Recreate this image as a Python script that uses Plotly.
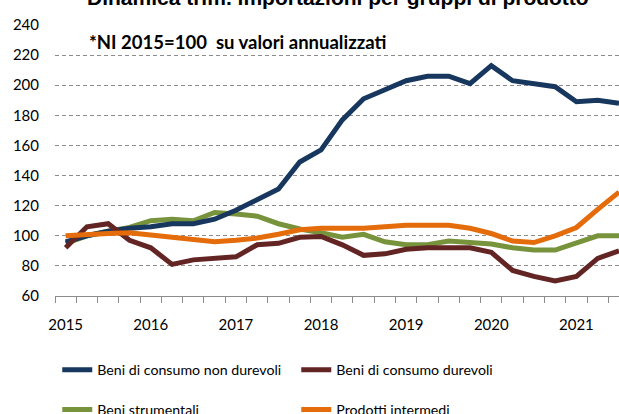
import plotly.graph_objects as go

quarters = list(range(27))  # 2015Q1 .. 2021Q3
year_labels = ["2015", "2016", "2017", "2018", "2019", "2020", "2021"]
year_pos = [0, 4, 8, 12, 16, 20, 24]

non_durevoli = [96, 100, 103, 105, 106, 108, 108, 111, 117, 124, 131, 149, 157, 177, 191, 197,
                203, 206, 206, 201, 213, 203, 201, 199, 189, 190, 188]
durevoli = [92, 106, 108, 97, 92, 81, 84, 85, 86, 94, 95, 99, 99.5, 94, 87, 88,
            91, 92, 92, 92, 89, 77, 73, 70, 73, 85, 90]
strumentali = [95, 100, 103, 105.5, 110, 111, 110, 115.5, 114.5, 113, 108, 104.5, 102, 99, 101, 96,
               94, 94, 96.5, 95.5, 94.5, 92, 90.5, 90.5, 95, 100, 100]
intermedi = [100, 101, 101.5, 102, 100.5, 98.5, 97, 96, 97, 98.5, 101, 104, 105, 105, 105, 106,
             107, 107, 107, 105, 101.5, 96.5, 95.5, 100, 105.5, 117.5, 129]

series = [
    ("Beni di consumo non durevoli", non_durevoli, "#17375E", "legend"),
    ("Beni di consumo durevoli", durevoli, "#632523", "legend"),
    ("Beni strumentali", strumentali, "#77933C", "legend2"),
    ("Prodotti intermedi", intermedi, "#E46C0A", "legend2"),
]

fig = go.Figure()
order = [2, 0, 1, 3]
for idx in order:
    name, vals, col, leg = series[idx]
    fig.add_trace(go.Scatter(x=quarters, y=vals, mode="lines", name=name,
                             line=dict(color=col, width=5), legend=leg,
                             legendrank=idx))

body = "Lato, Roboto, sans-serif"

fig.update_layout(
    width=619, height=414,
    margin=dict(l=55, r=0, t=25, b=118, autoexpand=False),
    plot_bgcolor="white", paper_bgcolor="white",
    font=dict(family=body, size=15, color="#000000"),
    xaxis=dict(range=[-0.5, 26.0], tickvals=year_pos, ticktext=year_labels,
               showgrid=False, zeroline=False, ticks="", ticklabelstandoff=15,
               showline=True, linecolor="#8c8c8c", linewidth=1,
               tickfont=dict(family=body, size=15),
               minor=dict(tick0=-0.5, dtick=1, ticks="outside", ticklen=6,
                          tickcolor="#8c8c8c", tickwidth=1, showgrid=False)),
    yaxis=dict(range=[60, 240], dtick=20, tick0=60, showgrid=True,
               gridcolor="#8c8c8c", griddash="4px,3px", gridwidth=1,
               zeroline=False, showline=False, ticks="",
               tickfont=dict(family=body, size=15), ticklabelstandoff=15),
    legend=dict(orientation="h", x=0.004, xanchor="left", y=-0.273, yanchor="middle",
                entrywidth=194, font=dict(family=body, size=14.2),
                bgcolor="rgba(0,0,0,0)", itemwidth=30),
    legend2=dict(orientation="h", x=0.004, xanchor="left", y=-0.42, yanchor="middle",
                 entrywidth=194, font=dict(family=body, size=14.2),
                 bgcolor="rgba(0,0,0,0)", itemwidth=30),
    showlegend=True,
)

fig.add_annotation(text="<b>Dinamica trim. importazioni per gruppi di prodotto</b>",
                   xref="paper", yref="paper", x=0.502, y=1.0, yshift=28,
                   xanchor="center", yanchor="middle", showarrow=False,
                   font=dict(family="Liberation Sans, Arial, sans-serif", size=21, color="#000"))
fig.add_annotation(text="<b>*NI 2015=100  su valori annualizzati</b>",
                   xref="paper", yref="paper", x=0.056, y=1.0, yshift=-17,
                   xanchor="left", yanchor="middle", showarrow=False,
                   font=dict(family=body, size=18.5, color="#000"))

fig.write_html("out.html", config={"displayModeBar": False},
               post_script="document.body.style.margin='0';")
